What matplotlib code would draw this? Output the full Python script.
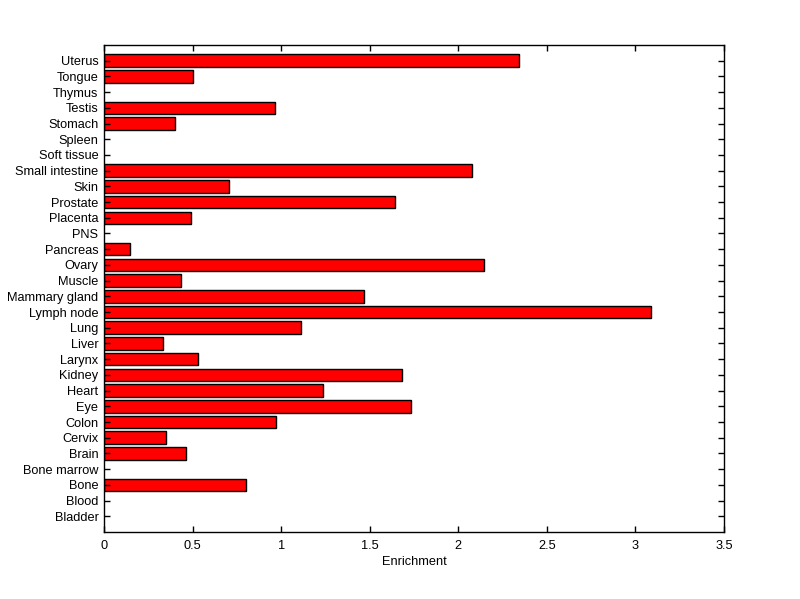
import numpy as np
import matplotlib
matplotlib.use("Agg")
import matplotlib.pyplot as plt

# tissues, bottom to top as drawn
tissues = ["Bladder", "Blood", "Bone", "Bone marrow", "Brain", "Cervix", "Colon",
           "Eye", "Heart", "Kidney", "Larynx", "Liver", "Lung", "Lymph node",
           "Mammary gland", "Muscle", "Ovary", "Pancreas", "PNS", "Placenta",
           "Prostate", "Skin", "Small intestine", "Soft tissue", "Spleen",
           "Stomach", "Testis", "Thymus", "Tongue", "Uterus"]
enrichment = [0, 0, 0.80, 0, 0.465, 0.35, 0.97,
              1.735, 1.235, 1.685, 0.53, 0.335, 1.11, 3.087,
              1.465, 0.435, 2.145, 0.147, 0, 0.492,
              1.645, 0.706, 2.08, 0, 0,
              0.40, 0.965, 0, 0.50, 2.34]
xticks = [0, 0.5, 1, 1.5, 2, 2.5, 3, 3.5]

plt.rcParams['font.family'] = ['Liberation Sans', 'DejaVu Sans']

fig = plt.figure(figsize=(8, 5.99), dpi=100)
ax = fig.add_axes([0.13, 0.1119, 0.775, 0.8130])

pos = np.arange(1, len(tissues) + 1)
vals = np.array(enrichment)
nz = vals > 0
ax.barh(pos[nz], vals[nz], height=0.8, color='#ff0000', edgecolor='black', linewidth=1)

ax.set_xlim(0, 3.5)
ax.set_ylim(0, len(tissues) + 1)
ax.set_xticks(xticks)
ax.set_xticklabels(['0', '0.5', '1', '1.5', '2', '2.5', '3', '3.5'])
ax.set_yticks(pos)
ax.set_yticklabels(tissues)
ax.tick_params(direction='in', top=True, right=True, length=4.5, width=1,
               labelsize=9.2, color='black')
ax.tick_params(axis='x', pad=6)
ax.tick_params(axis='y', pad=4)
for s in ax.spines.values():
    s.set_linewidth(1)
ax.set_xlabel('Enrichment', fontsize=9.2, labelpad=3)

fig.savefig('out.png', dpi=100)
